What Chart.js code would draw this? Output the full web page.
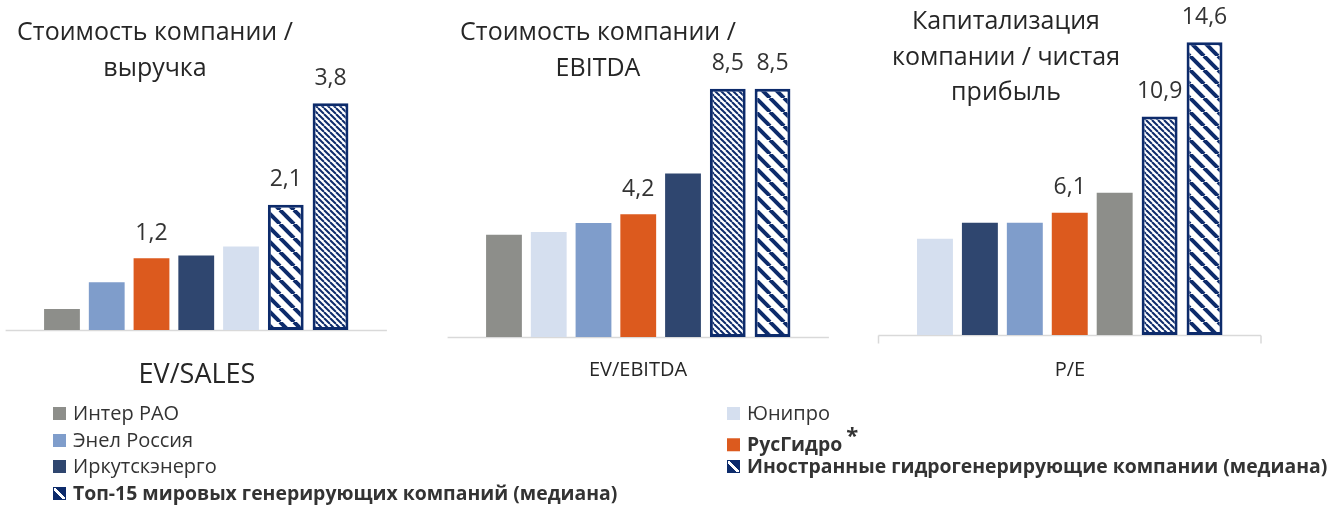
<!DOCTYPE html>
<html lang="ru">
<head>
<meta charset="utf-8">
<script src="https://cdn.jsdelivr.net/npm/chart.js@4/dist/chart.umd.min.js"></script>
<style>
  html, body { margin: 0; padding: 0; background: #fff; }
  body { width: 1338px; height: 508px; position: relative; overflow: hidden; font-family: "Open Sans", sans-serif; color: #333; }
  canvas { position: absolute; left: 0; top: 0; }
  .title { position: absolute; text-align: center; font-size: 25px; line-height: 36px; color: #262626; white-space: nowrap; transform: translateX(-50%); }
  .axis { position: absolute; transform: translate(-50%, -50%); white-space: nowrap; color: #262626; }
  .legend { position: absolute; font-size: 20px; line-height: 26px; white-space: nowrap; transform: translateY(-50%); }
  .legend i { display: inline-block; width: 13px; height: 13px; margin-right: 7px; vertical-align: 0px; }
  .legend b { font-size: 19.4px; }
  .legend b sup { font-size: 22px; position: relative; top: -1px; margin-left: 4px; }
  .hatch { box-sizing: border-box; border: 1px solid #0d2b6b; background: linear-gradient(45deg, #0d2b6b 38%, #fff 38%, #fff 58%, #0d2b6b 58%); }
</style>
</head>
<body>
<canvas id="chart-sales" width="1338" height="508"></canvas>
<canvas id="chart-ebitda" width="1338" height="508"></canvas>
<canvas id="chart-pe" width="1338" height="508"></canvas>

<div class="title" style="left:155px; top:12px;">Стоимость компании /<br>выручка</div>
<div class="title" style="left:598px; top:12px;">Стоимость компании /<br>EBITDA</div>
<div class="title" style="left:1006px; top:2px; line-height:35.5px;">Капитализация<br>компании / чистая<br>прибыль</div>

<div class="axis" style="left:197px; top:372px; font-size:27px;">EV/SALES</div>
<div class="axis" style="left:638px; top:368px; font-size:20px;">EV/EBITDA</div>
<div class="axis" style="left:1070px; top:368px; font-size:20px;">P/E</div>

<div id="legend"></div>

<script>
// Company names
const interRao = 'Интер РАО';
const enel = 'Энел Россия';
const irkutsk = 'Иркутскэнерго';
const top15 = 'Топ-15 мировых генерирующих компаний (медиана)';
const unipro = 'Юнипро';
const rushydro = 'РусГидро';
const foreignHydro = 'Иностранные гидрогенерирующие компании (медиана)';

// EV/SALES
const salesNames = [interRao, enel, rushydro, irkutsk, unipro, foreignHydro, top15];
const salesValues = [0.35, 0.8, 1.2, 1.25, 1.4, 2.1, 3.8];

// EV/EBITDA
const ebitdaNames = [interRao, unipro, enel, rushydro, irkutsk, top15, foreignHydro];
const ebitdaValues = [3.5, 3.6, 3.9, 4.2, 5.6, 8.5, 8.5];

// P/E
const peNames = [unipro, irkutsk, enel, rushydro, interRao, top15, foreignHydro];
const peValues = [4.8, 5.6, 5.6, 6.1, 7.1, 10.9, 14.6];

// Bars that carry a value label
const labeledNames = [rushydro, foreignHydro, top15];

// Legend order (two columns)
const legendLeft = [interRao, enel, irkutsk, top15];
const legendRight = [unipro, rushydro, foreignHydro];
const boldNames = [top15, rushydro, foreignHydro];

const navy = '#0d2b6b';

// Diagonal stripe pattern, lines going top-left to bottom-right
function makeStripes(size, lineWidth) {
  const c = document.createElement('canvas');
  c.width = size;
  c.height = size;
  const g = c.getContext('2d');
  g.fillStyle = '#fff';
  g.fillRect(0, 0, size, size);
  g.strokeStyle = navy;
  g.lineWidth = lineWidth;
  for (let k = -1; k <= 1; k++) {
    g.beginPath();
    g.moveTo(k * size, 0);
    g.lineTo(k * size + size, size);
    g.stroke();
  }
  return g.createPattern(c, 'repeat');
}

const fills = {};
fills[interRao] = '#8d8e8a';
fills[enel] = '#7f9dcb';
fills[irkutsk] = '#2f466f';
fills[unipro] = '#d5dfef';
fills[rushydro] = '#dc5a1e';
fills[foreignHydro] = makeStripes(14, 4);
fills[top15] = makeStripes(6, 2);

const striped = [foreignHydro, top15];

function fmt(v) {
  return v.toFixed(1).replace('.', ',');
}

// Value labels above selected bars
const valueLabels = {
  id: 'valueLabels',
  afterDatasetsDraw(chart) {
    const ctx = chart.ctx;
    const meta = chart.getDatasetMeta(0);
    const names = chart.data.labels;
    const values = chart.data.datasets[0].data;
    ctx.save();
    ctx.font = '23px "Open Sans"';
    ctx.fillStyle = '#333';
    ctx.textAlign = 'center';
    ctx.textBaseline = 'middle';
    meta.data.forEach((bar, i) => {
      if (labeledNames.includes(names[i])) {
        ctx.fillText(fmt(values[i]), bar.x, bar.y - 25);
      }
    });
    ctx.restore();
  }
};

// Category axis line, a bit wider than the bars
const baseLine = {
  id: 'baseLine',
  beforeDatasetsDraw(chart, args, opts) {
    const { ctx, chartArea } = chart;
    const x0 = chartArea.left - opts.extend;
    const x1 = chartArea.right + opts.extend;
    const y = chartArea.bottom + 0.5;
    ctx.save();
    ctx.strokeStyle = '#d9d9d9';
    ctx.lineWidth = 1.5;
    ctx.beginPath();
    ctx.moveTo(x0, y);
    ctx.lineTo(x1, y);
    if (opts.ticks) {
      ctx.moveTo(x0, y);
      ctx.lineTo(x0, y + 8);
      ctx.moveTo(x1, y);
      ctx.lineTo(x1, y + 8);
    }
    ctx.stroke();
    ctx.restore();
  }
};

function makeChart(id, names, values, yMax, padding, ticks) {
  return new Chart(document.getElementById(id), {
    type: 'bar',
    data: {
      labels: names,
      datasets: [{
        data: values,
        backgroundColor: names.map(n => fills[n]),
        borderColor: names.map(n => striped.includes(n) ? navy : 'rgba(0,0,0,0)'),
        borderWidth: names.map(n => striped.includes(n) ? 3 : 0),
        borderSkipped: false,
        barPercentage: 0.8,
        categoryPercentage: 1
      }]
    },
    options: {
      responsive: false,
      animation: false,
      devicePixelRatio: 1,
      layout: { padding: padding },
      plugins: {
        legend: { display: false },
        tooltip: { enabled: false },
        baseLine: { extend: 34, ticks: ticks }
      },
      scales: {
        x: { display: false },
        y: { display: false, min: 0, max: yMax }
      }
    },
    plugins: [baseLine, valueLabels]
  });
}

makeChart('chart-sales', salesNames, salesValues, 5, { left: 39.6, right: 1338 - 352.9, top: 31.5, bottom: 508 - 330 }, false);
makeChart('chart-ebitda', ebitdaNames, ebitdaValues, 10, { left: 481.6, right: 1338 - 794.9, top: 45, bottom: 508 - 337 }, false);
makeChart('chart-pe', peNames, peValues, 16, { left: 912.5, right: 1338 - 1227, top: 14.2, bottom: 508 - 335 }, true);

// Legend
const legendBox = document.getElementById('legend');
function addLegend(list, x) {
  list.forEach((name, i) => {
    const row = document.createElement('div');
    row.className = 'legend';
    row.style.left = x + 'px';
    row.style.top = (413 + i * 26.7) + 'px';
    const icon = document.createElement('i');
    if (striped.includes(name)) {
      icon.className = 'hatch';
    } else {
      icon.style.background = fills[name];
    }
    row.appendChild(icon);
    if (boldNames.includes(name)) {
      const b = document.createElement('b');
      b.textContent = name;
      if (name === rushydro) {
        const s = document.createElement('sup');
        s.textContent = '*';
        b.appendChild(s);
      }
      row.appendChild(b);
    } else {
      row.appendChild(document.createTextNode(name));
    }
    legendBox.appendChild(row);
  });
}
addLegend(legendLeft, 53);
addLegend(legendRight, 727);
</script>
</body>
</html>
